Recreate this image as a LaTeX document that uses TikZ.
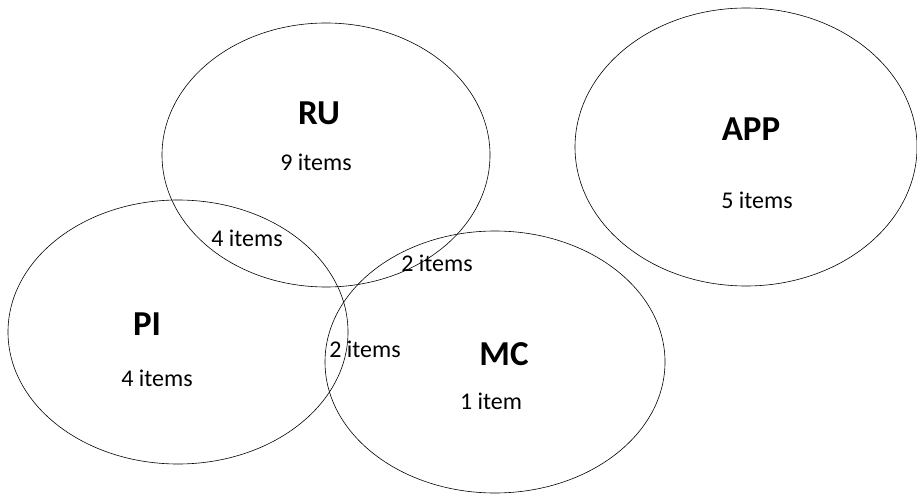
\documentclass[tikz,border=0pt]{standalone}
\usepackage{fontspec}
\setmainfont{Carlito}
\usetikzlibrary{shapes.geometric}

\begin{document}
\begin{tikzpicture}[
  x=1pt, y=-1pt,
  setring/.style={draw=black, line width=0.6pt, ellipse, inner sep=0pt},
  setname/.style={font=\fontsize{35}{40}\selectfont\bfseries},
  count/.style={font=\fontsize{24}{28}\selectfont}
]
\useasboundingbox (0,0) rectangle (917,494);

% the four sets
\node[setring, minimum width=328, minimum height=264] (ru) at (326,155) {};
\node[setring, minimum width=340, minimum height=264] (pi) at (178,332) {};
\node[setring, minimum width=340, minimum height=262] (mc) at (495,362) {};
\node[setring, minimum width=342, minimum height=278] (app) at (746,147) {};

% names and counts
\node[setname] (runame) at (319,113) {RU};
\node[count] (rucount) at (316,162) {9 items};
\node[setname] (appname) at (751,129) {APP};
\node[count] (appcount) at (757,200) {5 items};
\node[setname] (piname) at (147,324) {PI};
\node[count] (picount) at (157,378) {4 items};
\node[setname] (mcname) at (504,354) {MC};
\node[count] (mccount) at (491,401) {1 item};

% overlaps
\node[count] (rupi) at (247,238) {4 items};
\node[count] (rumc) at (437,263) {2 items};
\node[count] (pimc) at (365,349) {2 items};
\end{tikzpicture}
\end{document}
